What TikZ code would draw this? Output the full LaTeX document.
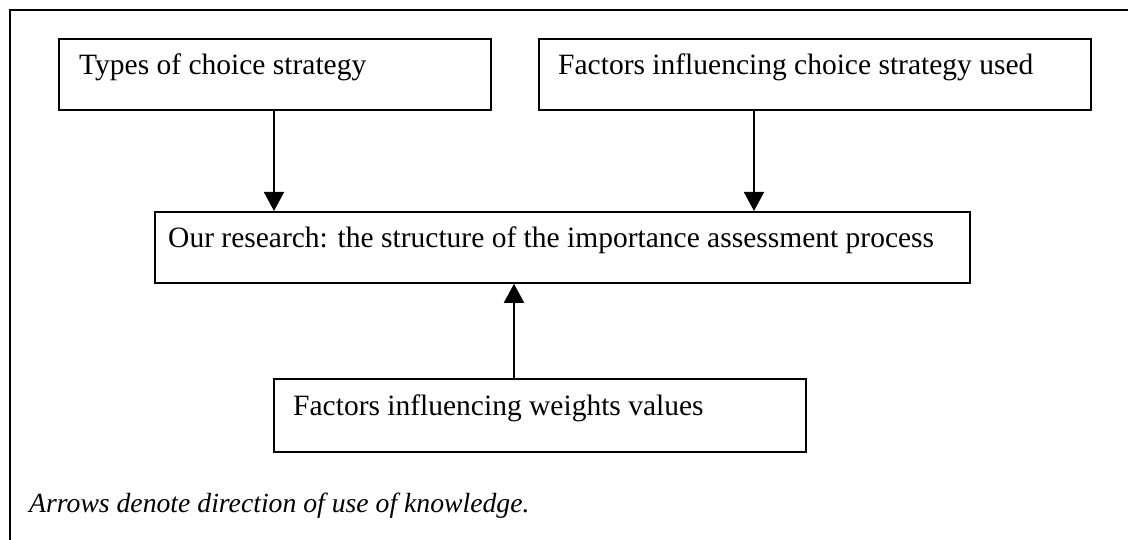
\documentclass[tikz,border=0pt]{standalone}
\usepackage{fontspec}
\setmainfont{Liberation Serif}
\usetikzlibrary{arrows.meta,calc}
\begin{document}
\begin{tikzpicture}[x=1pt,y=-1pt,
  box/.style={draw, line width=1.8pt, rectangle, inner sep=0pt, anchor=north west},
  lbl/.style={anchor=base west, inner sep=0pt, font=\fontsize{29.5}{34}\selectfont},
  note/.style={anchor=base west, inner sep=0pt, font=\fontsize{27.7}{32}\selectfont\itshape},
  arr/.style={line width=1.8pt, -{Triangle[width=20pt,length=19pt]}}]
  \useasboundingbox (0,0) rectangle (1128,540);
  % outer frame: top and left sides only
  \draw[line width=1.8pt] (1130,10) -- (10,10) -- (10,542);
  % boxes
  \node[box, minimum width=432pt, minimum height=71pt] (types) at (58,38) {};
  \node[box, minimum width=552pt, minimum height=71pt] (factors) at (538,38) {};
  \node[box, minimum width=815pt, minimum height=71pt] (research) at (154,211) {};
  \node[box, minimum width=532pt, minimum height=73pt] (weights) at (273,378) {};
  % box texts
  \node[lbl] (tTypes) at ($(types.north west)+(21,37)$) {Types of choice strategy};
  \node[lbl] (tFactors) at ($(factors.north west)+(20,37)$) {Factors influencing choice strategy used};
  \node[lbl] (tResearch) at ($(research.north west)+(14,37)$) {Our research: the structure of the importance assessment process};
  \node[lbl] (tWeights) at ($(weights.north west)+(20,37)$) {Factors influencing weights values};
  % caption
  \node[note] (caption) at (29,512) {Arrows denote direction of use of knowledge.};
  % arrow positions
  \coordinate (ax1) at (274,0);
  \coordinate (ax2) at (754,0);
  \coordinate (ax3) at (514,0);
  \draw[arr] (types.south -| ax1) -- (research.north -| ax1);
  \draw[arr] (factors.south -| ax2) -- (research.north -| ax2);
  \draw[arr] (weights.north -| ax3) -- (research.south -| ax3);
\end{tikzpicture}
\end{document}
